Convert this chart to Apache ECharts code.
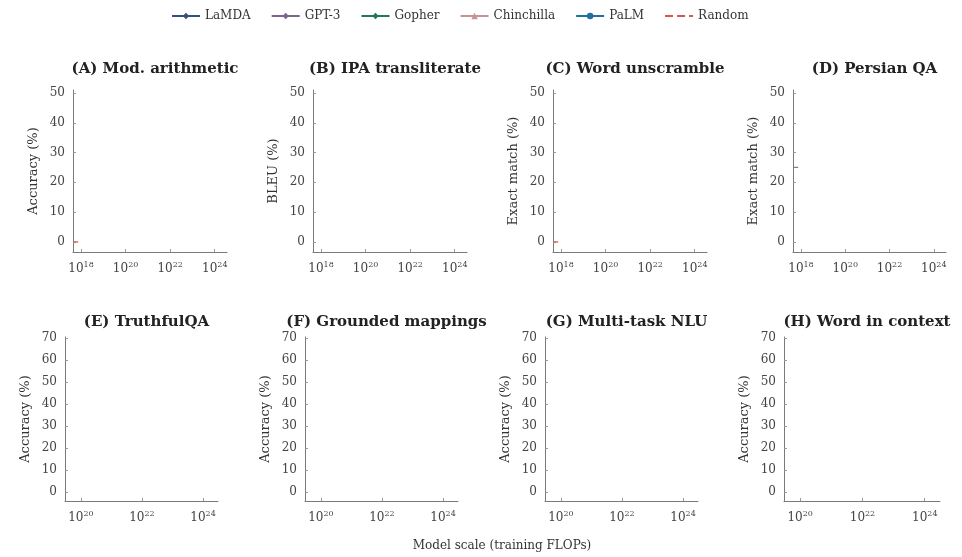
<!DOCTYPE html>
<html>
<head>
<meta charset="utf-8">
<script src="https://cdn.jsdelivr.net/npm/echarts@6/dist/echarts.min.js"></script>
<style>
  html, body { margin: 0; padding: 0; background: #fff; }
  #chart { width: 962px; height: 557px; }
</style>
</head>
<body>
<div id="chart"></div>
<script>
// panel titles and y-axis names
const panelTitles = ['(A) Mod. arithmetic', '(B) IPA transliterate', '(C) Word unscramble', '(D) Persian QA',
  '(E) TruthfulQA', '(F) Grounded mappings', '(G) Multi-task NLU', '(H) Word in context'];
const yNames = ['Accuracy (%)', 'BLEU (%)', 'Exact match (%)', 'Exact match (%)',
  'Accuracy (%)', 'Accuracy (%)', 'Accuracy (%)', 'Accuracy (%)'];

// model series (no visible points in the picture)
const modelNames = ['LaMDA', 'GPT-3', 'Gopher', 'Chinchilla', 'PaLM'];
const modelColors = ['#34507e', '#7d6390', '#1d7a5c', '#c99393', '#1f6ea5'];
const modelSymbols = ['diamond', 'diamond', 'diamond', 'triangle', 'circle'];
const modelPoints = [[], [], [], [], []];

// random baseline: visible stub per panel (x = log10 FLOPs), null = not visible
const randomX = [17.66, 17.95];
const randomLevel = [0, null, 0, 25, null, null, null, null];

// tick labels (exponents of 10) and y ticks
const xTicksTop = [18, 20, 22, 24];
const xTicksBottom = [20, 22, 24];
const yTicksTop = [0, 10, 20, 30, 40, 50];
const yTicksBottom = [0, 10, 20, 30, 40, 50, 60, 70];

const chart = echarts.init(document.getElementById('chart'));
const serif = 'DejaVu Serif';

const gridPos = [
  { left: 73, top: 90, width: 154, height: 162 },
  { left: 313, top: 90, width: 154, height: 162 },
  { left: 553, top: 90, width: 154, height: 162 },
  { left: 793, top: 90, width: 153, height: 162 },
  { left: 65, top: 337, width: 153, height: 164 },
  { left: 305, top: 337, width: 153, height: 164 },
  { left: 545, top: 337, width: 153, height: 164 },
  { left: 784, top: 337, width: 156, height: 164 }
];

const axisLine = { onZero: false, lineStyle: { color: '#7a7a7a', width: 1 } };

const grids = [], xAxes = [], yAxes = [], titles = [], series = [];
gridPos.forEach((g, i) => {
  const top = i < 4;
  grids.push(g);
  xAxes.push({
    type: 'value', gridIndex: i,
    min: top ? 17.64 : 19.48, max: top ? 24.55 : 24.49,
    axisLine: axisLine,
    splitLine: { show: false },
    axisTick: { inside: true, length: 3, lineStyle: { color: '#999' }, customValues: top ? xTicksTop : xTicksBottom },
    axisLabel: {
      customValues: top ? xTicksTop : xTicksBottom,
      margin: 9,
      formatter: v => '{b|10}{s|' + v + '}',
      rich: {
        b: { fontFamily: serif, fontSize: 12, color: '#444' },
        s: { fontFamily: serif, fontSize: 8, color: '#444', padding: [0, 0, 7, 0] }
      }
    }
  });
  yAxes.push({
    type: 'value', gridIndex: i,
    min: top ? -3.4 : -4.1, max: top ? 51 : 70.5,
    name: yNames[i], nameLocation: 'middle', nameGap: 33,
    nameTextStyle: { fontFamily: serif, fontSize: 13, color: '#333' },
    axisLine: axisLine,
    splitLine: { show: false },
    axisTick: { inside: true, length: 3, lineStyle: { color: '#999' }, customValues: top ? yTicksTop : yTicksBottom },
    axisLabel: { customValues: top ? yTicksTop : yTicksBottom, fontFamily: serif, fontSize: 12, color: '#444', margin: 8 }
  });
  titles.push({
    text: panelTitles[i], left: g.left + g.width / 2, textAlign: 'center', top: top ? 57 : 310,
    textStyle: { fontFamily: serif, fontWeight: 'bold', fontSize: 15, color: '#222' }
  });
  modelNames.forEach((n, k) => {
    series.push({
      name: n, type: 'line', xAxisIndex: i, yAxisIndex: i,
      data: modelPoints[k], symbol: modelSymbols[k], symbolSize: k === 4 ? 9 : 5,
      itemStyle: { color: modelColors[k] }, lineStyle: { color: modelColors[k], width: 1.2 }
    });
  });
  const lvl = randomLevel[i];
  series.push({
    name: 'Random', type: 'line', xAxisIndex: i, yAxisIndex: i, symbol: 'none',
    data: lvl === null ? [] : randomX.map(x => [x, lvl]),
    itemStyle: { color: '#d9534f' },
    lineStyle: { type: 'dashed', width: 1.2, color: i === 3 ? '#8a7f7f' : '#d9534f' }
  });
});

titles.push({
  text: 'Model scale (training FLOPs)', left: 497, textAlign: 'center', top: 535,
  textStyle: { fontFamily: serif, fontWeight: 'normal', fontSize: 12, color: '#333' }
});

chart.setOption({
  animation: false,
  backgroundColor: '#fff',
  title: titles,
  legend: {
    top: 5, left: 166, itemGap: 20, itemWidth: 28, itemHeight: 8,
    data: modelNames.concat([{ name: 'Random', itemStyle: { opacity: 0 } }]),
    textStyle: { fontFamily: serif, fontSize: 12, color: '#333' }
  },
  grid: grids,
  xAxis: xAxes,
  yAxis: yAxes,
  series: series
});
</script>
</body>
</html>
